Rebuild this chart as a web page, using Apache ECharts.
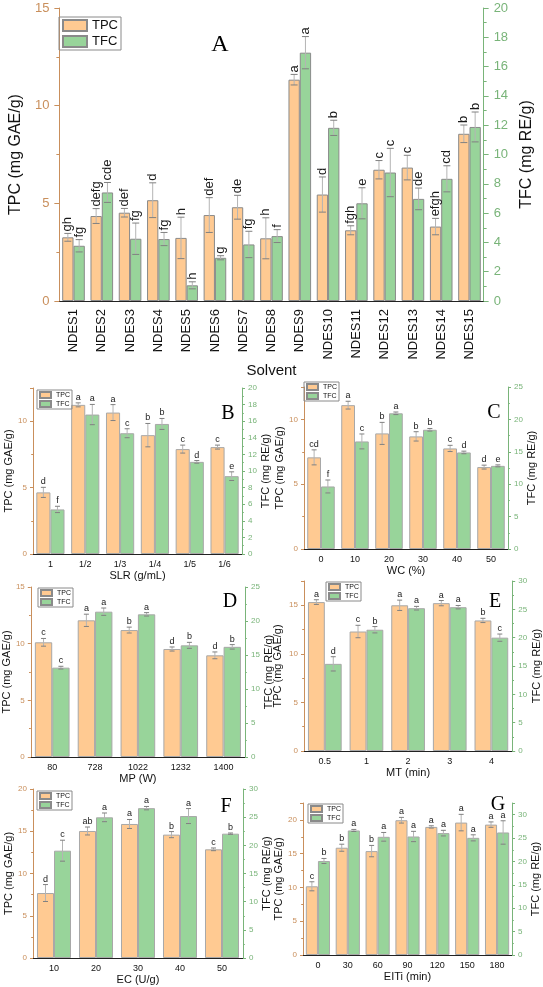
<!DOCTYPE html>
<html lang="en">
<head>
<meta charset="UTF-8">
<title>TPC / TFC</title>
<script src="https://cdn.jsdelivr.net/npm/echarts@6/dist/echarts.min.js"></script>
<style>
    html, body { margin: 0; padding: 0; background: #fff; }
    #app { width: 543px; height: 987px; }
</style>
</head>
<body>
<div id="app"></div>
<script>
// ---- data ----
var catA = ['NDES1', 'NDES2', 'NDES3', 'NDES4', 'NDES5', 'NDES6', 'NDES7', 'NDES8', 'NDES9', 'NDES10', 'NDES11', 'NDES12', 'NDES13', 'NDES14', 'NDES15'];
var tpcA = [3.26, 4.35, 4.52, 5.16, 3.23, 4.4, 4.8, 3.21, 11.33, 5.45, 3.62, 6.72, 6.83, 3.81, 8.56];
var tpcErrA = [0.2, 0.38, 0.22, 0.89, 1.06, 0.89, 0.61, 1.05, 0.27, 0.9, 0.23, 0.47, 0.63, 0.42, 0.45];
var tpcLetA = ['gh', 'defg', 'def', 'd', 'h', 'def', 'de', 'h', 'a', 'd', 'fgh', 'c', 'c', 'efgh', 'b'];
var tfcA = [3.77, 7.41, 4.25, 4.23, 1.07, 2.95, 3.86, 4.43, 16.95, 11.82, 6.67, 8.77, 6.97, 8.34, 11.88];
var tfcErrA = [0.42, 0.68, 1.07, 0.45, 0.24, 0.14, 0.9, 0.44, 1.1, 0.52, 1.06, 1.65, 0.74, 0.89, 1.02];
var tfcLetA = ['fg', 'cde', 'fg', 'fg', 'h', 'g', 'fg', 'f', 'a', 'b', 'e', 'c', 'de', 'cd', 'b'];

var catB = ['1', '1/2', '1/3', '1/4', '1/5', '1/6'];
var tpcB = [4.64, 11.23, 10.65, 8.95, 7.9, 8.05];
var tpcErrB = [0.38, 0.15, 0.6, 0.88, 0.3, 0.15];
var tpcLetB = ['d', 'a', 'a', 'b', 'c', 'c'];
var tfcB = [5.37, 16.8, 14.55, 15.67, 11.1, 9.38];
var tfcErrB = [0.38, 1.22, 0.54, 0.66, 0.16, 0.52];
var tfcLetB = ['f', 'a', 'c', 'b', 'd', 'e'];

var catC = ['0', '10', '20', '30', '40', '50'];
var tpcC = [7.07, 11.1, 8.92, 8.69, 7.76, 6.32];
var tpcErrC = [0.58, 0.3, 0.85, 0.36, 0.24, 0.15];
var tpcLetC = ['cd', 'a', 'b', 'b', 'c', 'd'];
var tfcC = [9.65, 16.6, 20.94, 18.4, 14.9, 12.83];
var tfcErrC = [1.0, 1.15, 0.2, 0.2, 0.2, 0.15];
var tfcLetC = ['f', 'c', 'a', 'b', 'd', 'e'];

var catD = ['80', '728', '1022', '1232', '1400'];
var tpcD = [10.12, 12.06, 11.2, 9.53, 8.97];
var tpcErrD = [0.34, 0.54, 0.26, 0.18, 0.3];
var tpcLetD = ['c', 'a', 'b', 'd', 'd'];
var tfcD = [13.14, 21.37, 20.98, 16.42, 16.2];
var tfcErrD = [0.2, 0.54, 0.25, 0.44, 0.33];
var tfcLetD = ['c', 'a', 'a', 'b', 'b'];

var catE = ['0.5', '1', '2', '3', '4'];
var tpcE = [15.33, 12.3, 15.0, 15.22, 13.44];
var tpcErrE = [0.24, 0.64, 0.53, 0.27, 0.22];
var tpcLetE = ['a', 'c', 'a', 'a', 'b'];
var tfcE = [15.38, 21.4, 25.2, 25.38, 20.0];
var tfcErrE = [1.26, 0.56, 0.32, 0.3, 0.64];
var tfcLetE = ['d', 'b', 'a', 'a', 'c'];

var catF = ['10', '20', '30', '40', '50'];
var tpcF = [7.69, 15.03, 15.86, 14.6, 12.86];
var tpcErrF = [1.0, 0.47, 0.53, 0.36, 0.16];
var tpcLetF = ['d', 'ab', 'a', 'b', 'c'];
var tfcF = [19.05, 24.97, 26.6, 25.2, 22.07];
var tfcErrF = [1.86, 0.77, 0.3, 1.33, 0.12];
var tfcLetF = ['c', 'a', 'a', 'a', 'b'];

var catG = ['0', '30', '60', '90', '120', '150', '180'];
var tpcG = [10.17, 15.88, 15.38, 19.95, 18.96, 19.6, 19.3];
var tpcErrG = [0.67, 0.52, 0.84, 0.42, 0.17, 1.22, 0.4];
var tpcLetG = ['c', 'b', 'b', 'a', 'a', 'a', 'a'];
var tfcG = [20.1, 26.63, 25.27, 25.34, 26.06, 25.05, 26.2];
var tfcErrG = [0.54, 0.22, 0.93, 1.1, 0.6, 0.65, 2.5];
var tfcLetG = ['b', 'a', 'a', 'a', 'a', 'a', 'a'];

// ---- build ----
var FONT = '"Liberation Sans", Arial, sans-serif';
var SERIF = '"Liberation Serif", "Times New Roman", serif';
var ORANGE = '#ffca92', GREEN = '#98d49a';
var LCOL = '#c98f5c', RCOL = '#79b479';

var grids = [], xAxes = [], yAxes = [], series = [], legends = [], graphics = [];

function errRender(lets, side, c) {
    return function (params, api) {
        var i = api.value(0), v = api.value(1), e = api.value(2);
        var band = api.size([1, 0])[0];
        var x = api.coord([i, v])[0] + side * band * (1 - c.gap) / 4;
        var yt = api.coord([i, v + e])[1];
        var yb = api.coord([i, v - e])[1];
        var txt;
        if (c.rotLet) {
            txt = {type: 'text', x: x, y: yt - 2, rotation: Math.PI / 2,
                style: {text: lets[params.dataIndex], fill: '#1a1a1a', fontSize: c.letSize, fontFamily: FONT, align: 'left', verticalAlign: 'middle'}};
        } else {
            txt = {type: 'text', x: x, y: yt - 1,
                style: {text: lets[params.dataIndex], fill: '#1a1a1a', fontSize: c.letSize, fontFamily: FONT, align: 'center', verticalAlign: 'bottom'}};
        }
        return {type: 'group', children: [
            {type: 'line', shape: {x1: x, y1: yt, x2: x, y2: yb}, style: {stroke: '#b4b4b4', lineWidth: 1}},
            {type: 'line', shape: {x1: x - c.cap, y1: yt, x2: x + c.cap, y2: yt}, style: {stroke: '#808080', lineWidth: 1}},
            {type: 'line', shape: {x1: x - c.cap, y1: yb, x2: x + c.cap, y2: yb}, style: {stroke: '#808080', lineWidth: 1}},
            txt
        ]};
    };
}

function valueAxis(gi, pos, max, interval, color, name, gap, c) {
    return {
        type: 'value', gridIndex: gi, position: pos, min: 0, max: max, interval: interval,
        name: name, nameLocation: 'middle', nameGap: gap, nameRotate: 90,
        nameTextStyle: {color: '#111', fontSize: c.nameSize, fontFamily: FONT},
        axisLine: {show: true, lineStyle: {color: color, width: 1}},
        axisTick: {show: true, length: c.tick, lineStyle: {color: color}},
        minorTick: {show: true, splitNumber: 2, length: c.tick * 0.6, lineStyle: {color: color}},
        axisLabel: {color: color, fontSize: c.tickSize, fontFamily: FONT, margin: c.labMargin,
            showMaxLabel: (max % interval === 0)},
        splitLine: {show: false}
    };
}

function addPanel(cats, tpc, tpcErr, tpcLet, tfc, tfcErr, tfcLet, c) {
    var gi = grids.length;
    grids.push({left: c.grid[0], right: c.grid[1], top: c.grid[2], bottom: c.grid[3]});
    var xi = xAxes.length;
    xAxes.push({
        type: 'category', gridIndex: gi, data: cats, position: 'bottom',
        name: c.xName, nameLocation: 'middle', nameGap: c.xGap,
        nameTextStyle: {color: '#111', fontSize: c.xNameSize, fontFamily: FONT},
        axisLine: {lineStyle: {color: '#222', width: 1}},
        axisTick: {alignWithLabel: true, length: c.tick, lineStyle: {color: '#222'}},
        axisLabel: {color: '#111', fontSize: c.catSize, fontFamily: FONT, interval: 0, rotate: c.rotCat ? 90 : 0, margin: c.catMargin}
    });
    xAxes.push({
        type: 'category', gridIndex: gi, data: cats, position: 'bottom',
        axisLine: {show: false}, axisLabel: {show: false},
        axisTick: {length: c.tick * 0.6, interval: 0, lineStyle: {color: '#222'}}
    });
    var yl = yAxes.length;
    yAxes.push(valueAxis(gi, 'left', c.lmax, c.lint, LCOL, 'TPC (mg GAE/g)', c.lGap, c));
    yAxes.push(valueAxis(gi, 'right', c.rmax, c.rint, RCOL, 'TFC (mg RE/g)', c.rGap, c));
    var border = {borderColor: c.border, borderWidth: 1};
    series.push({type: 'bar', name: 'TPC', xAxisIndex: xi, yAxisIndex: yl, data: tpc,
        barGap: '0%', barCategoryGap: (c.gap * 100) + '%',
        itemStyle: Object.assign({color: ORANGE}, border)});
    series.push({type: 'bar', name: 'TFC', xAxisIndex: xi, yAxisIndex: yl + 1, data: tfc,
        barGap: '0%', barCategoryGap: (c.gap * 100) + '%',
        itemStyle: Object.assign({color: GREEN}, border)});
    series.push({type: 'custom', xAxisIndex: xi, yAxisIndex: yl, z: 5,
        renderItem: errRender(tpcLet, -1, c), encode: {x: 0, y: 1},
        data: tpc.map(function (v, i) { return [i, v, tpcErr[i]]; })});
    series.push({type: 'custom', xAxisIndex: xi, yAxisIndex: yl + 1, z: 5,
        renderItem: errRender(tfcLet, 1, c), encode: {x: 0, y: 1},
        data: tfc.map(function (v, i) { return [i, v, tfcErr[i]]; })});
    legends.push({
        left: c.leg[0], top: c.leg[1], orient: 'vertical', data: ['TPC', 'TFC'],
        icon: 'rect', itemWidth: c.legW, itemHeight: c.legH, itemGap: c.legGap,
        padding: c.legPad, borderColor: '#8a8a8a', borderWidth: 1,
        textStyle: {color: '#111', fontSize: c.legSize, fontFamily: FONT}, selectedMode: false
    });
    graphics.push({type: 'text', x: c.tag[0], y: c.tag[1],
        style: {text: c.tagText, fill: '#000', fontSize: c.tagSize, fontFamily: SERIF, align: 'center', verticalAlign: 'middle'}});
}

var big = {gap: 0.2, rotLet: true, letSize: 13, cap: 3.5, tick: 5, tickSize: 13, labMargin: 10, nameSize: 16,
    catSize: 13, catMargin: 8, rotCat: true, xNameSize: 15, border: '#8a8a8a',
    legW: 24, legH: 11, legGap: 3, legPad: [2, 3], legSize: 13, tagSize: 24};
function small(o) {
    var s = {gap: 0.19, rotLet: false, letSize: 9, cap: 2.5, tick: 3, tickSize: 8, labMargin: 6, nameSize: 11,
        catSize: 9, catMargin: 6, rotCat: false, xNameSize: 11, border: '#a8a8a8',
        legW: 11, legH: 6, legGap: 1, legPad: [1, 2], legSize: 7, tagSize: 20, xGap: 16};
    return Object.assign(s, o);
}

addPanel(catA, tpcA, tpcErrA, tpcLetA, tfcA, tfcErrA, tfcLetA, Object.assign({}, big, {
    grid: [42, 43, 8, 686], lmax: 15, lint: 5, rmax: 20, rint: 2, lGap: 22, rGap: 22,
    xName: 'Solvent', xGap: 53, leg: [59, 17], tag: [220, 45], tagText: 'A'}));
addPanel(catB, tpcB, tpcErrB, tpcLetB, tfcB, tfcErrB, tfcLetB, small({
    grid: [33, 301, 388, 433], lmax: 12.5, lint: 5, rmax: 20, rint: 2, lGap: 17, rGap: 15,
    xName: 'SLR (g/mL)', leg: [37, 390], tag: [228, 414], tagText: 'B'}));
addPanel(catC, tpcC, tpcErrC, tpcLetC, tfcC, tfcErrC, tfcLetC, small({
    grid: [304, 35, 387, 438], lmax: 12.5, lint: 5, rmax: 25, rint: 5, lGap: 19, rGap: 15,
    xName: 'WC (%)', leg: [304, 382], tag: [494, 413], tagText: 'C'}));
addPanel(catD, tpcD, tpcErrD, tpcLetD, tfcD, tfcErrD, tfcLetD, small({
    grid: [29, 298, 587, 230], lmax: 15, lint: 5, rmax: 25, rint: 5, lGap: 17, rGap: 16,
    xName: 'MP (W)', leg: [38, 588], tag: [230, 602], tagText: 'D'}));
addPanel(catE, tpcE, tpcErrE, tpcLetE, tfcE, tfcErrE, tfcLetE, small({
    grid: [304, 30, 581, 236], lmax: 17.5, lint: 5, rmax: 30, rint: 5, lGap: 21, rGap: 17,
    xName: 'MT (min)', leg: [326, 582], tag: [495, 602], tagText: 'E'}));
addPanel(catF, tpcF, tpcErrF, tpcLetF, tfcF, tfcErrF, tfcLetF, small({
    grid: [33, 300, 789, 29], lmax: 20, lint: 5, rmax: 30, rint: 5, lGap: 18, rGap: 18,
    xName: 'EC (U/g)', leg: [37, 791], tag: [226, 807], tagText: 'F'}));
addPanel(catG, tpcG, tpcErrG, tpcLetG, tfcG, tfcErrG, tfcLetG, small({
    grid: [303, 31, 803, 32], lmax: 22.5, lint: 5, rmax: 32.5, rint: 5, lGap: 17, rGap: 16,
    xName: 'EITi (min)', leg: [308, 804], tag: [498, 805], tagText: 'G'}));

var chart = echarts.init(document.getElementById('app'));
chart.setOption({
    animation: false,
    backgroundColor: '#fff',
    grid: grids,
    xAxis: xAxes,
    yAxis: yAxes,
    legend: legends,
    graphic: graphics,
    series: series
});
</script>
</body>
</html>
